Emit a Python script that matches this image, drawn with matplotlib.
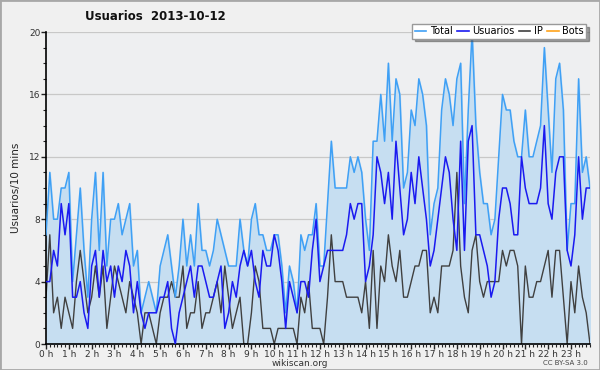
import matplotlib
matplotlib.use("Agg")
import matplotlib.pyplot as plt
import numpy as np
from matplotlib.lines import Line2D
from matplotlib.patches import Rectangle

# 10-minute slots over the day (144 points)
total = [7, 11, 8, 8, 10, 10, 11, 4, 7, 10, 6, 3, 8, 11, 6, 11, 5, 8, 8, 9, 7, 8, 9, 5,
         6, 2, 3, 4, 3, 2, 5, 6, 7, 5, 3, 5, 8, 5, 7, 5, 9, 6, 6, 5, 6, 8, 7, 6,
         5, 5, 5, 8, 6, 5, 8, 9, 7, 7, 6, 6, 7, 7, 5, 2, 5, 4, 2, 7, 6, 7, 7, 9,
         5, 5, 9, 13, 10, 10, 10, 10, 12, 11, 12, 11, 8, 6, 13, 13, 16, 13, 18, 13, 17, 16, 10,
         11, 15, 14, 17, 16, 14, 7, 9, 10,
         15, 17, 16, 14, 17, 18, 9, 15, 20, 14, 11, 9, 9, 7,
         8, 12, 16, 15, 15, 13, 12, 12, 15, 12, 12, 13, 14, 19, 15, 11, 17, 18, 15, 6, 9, 9, 17, 11, 12, 10]
usuarios = [4, 4, 6, 5, 9, 7, 9, 3, 3, 4, 2, 1, 5, 6, 3, 6, 4, 5, 3, 5, 4, 6, 5, 2,
            4, 2, 1, 2, 2, 2, 3, 3, 4, 1, 0, 2, 3, 4, 5, 3, 5, 5, 4, 3, 3, 4, 5, 1,
            2, 4, 3, 5, 6, 5, 6, 4, 3, 6, 5, 5, 7, 6, 4, 1, 4, 3, 2, 4, 4, 3, 6, 8,
            4, 5, 6, 6, 6, 6, 6, 7, 9, 8, 9, 9, 4, 5, 7, 12, 11, 9, 11, 8, 13, 10, 7,
            8, 11, 9, 12, 10, 8, 5, 6, 8,
            10, 12, 11, 8, 6, 13, 6, 13, 14, 7, 7, 6, 5, 3,
            4, 8, 10, 10, 9, 7, 7, 12, 10, 9, 9, 9, 10, 14, 9, 8, 11, 12, 12, 6, 5, 7, 12, 8, 10, 10]
ip = [3, 7, 2, 3, 1, 3, 2, 1, 4, 6, 4, 2, 3, 5, 3, 5, 1, 3, 5, 4, 3, 2, 4, 3,
      2, 0, 2, 2, 1, 0, 2, 3, 3, 4, 3, 3, 5, 1, 2, 2, 4, 1, 2, 2, 3, 4, 2, 5,
      3, 1, 2, 3, 0, 0, 2, 5, 4, 1, 1, 1, 0, 1, 1, 1, 1, 1, 0, 3, 2, 4, 1, 1,
      1, 0, 3, 7, 4, 4, 4, 3, 3, 3, 3, 2, 4, 1, 6, 1, 5, 4, 7, 5, 4, 6, 3,
      3, 4, 5, 5, 6, 6, 2, 3, 2,
      5, 5, 5, 6, 11, 5, 3, 2, 6, 7, 4, 3, 4, 4,
      4, 4, 6, 5, 6, 6, 5, 0, 5, 3, 3, 4, 4, 5, 6, 3, 6, 6, 3, 0, 4, 2, 5, 3, 2, 0]
hour_labels = [f"{h} h" for h in range(24)]

c_total = "#3fa0f5"
c_usu = "#1a1af0"
c_ip = "#404040"
c_bots = "#ffa31a"

fig = plt.figure(figsize=(6, 3.7), dpi=100, facecolor="#f0f0f0")
fig.patches.append(Rectangle((0, 0), 1, 1, transform=fig.transFigure, fill=False,
                             edgecolor="#a8a8a8", linewidth=2))
ax = fig.add_axes([46 / 600, 26 / 370, 544 / 600, 312 / 370])
ax.set_facecolor("#eeeff1")

x = np.arange(len(total))
ax.fill_between(x, total, 0, color="#c6def1", zorder=1)
ax.plot(x, total, color=c_total, lw=1.1, zorder=3)
ax.plot(x, usuarios, color=c_usu, lw=1.1, zorder=4)
ax.plot(x, ip, color=c_ip, lw=1.0, zorder=2)

ax.set_xlim(0, len(total) - 1)
ax.set_ylim(0, 20)
ax.set_yticks([0, 4, 8, 12, 16, 20])
ax.set_yticks(np.arange(0, 21, 1), minor=True)
ax.set_xticks(np.arange(0, 144, 6))
ax.set_xticklabels(hour_labels)
ax.set_xticks(np.arange(0, 144, 1), minor=True)
ax.grid(axis="y", which="major", color="#c8c8c8", lw=0.9, zorder=0)
ax.set_axisbelow(True)
for side in ["top", "right"]:
    ax.spines[side].set_visible(False)
ax.spines["left"].set_linewidth(1.2)
ax.spines["bottom"].set_linewidth(1.2)
ax.tick_params(axis="both", which="major", length=3.5, width=1, labelsize=6.5, pad=0.5,
               color="#222222", labelcolor="#333333")
ax.tick_params(axis="both", which="minor", length=2.5, width=0.8, color="#222222")
ax.set_ylabel("Usuarios/10 mins", fontsize=7.5, color="#222222", labelpad=6)

fig.text(85 / 600, 1 - 17 / 370, "Usuarios  2013-10-12", fontsize=8.5, fontweight="bold",
         va="center", ha="left", color="#111111")
fig.text(0.5, 1 - 364 / 370, "wikiscan.org", fontsize=6.5, ha="center", va="center",
         color="#333333")
fig.text(588 / 600, 1 - 363 / 370, "CC BY-SA 3.0", fontsize=5, ha="right", va="center",
         color="#444444")

handles = [Line2D([], [], color=c, lw=1.2) for c in (c_total, c_usu, c_ip, c_bots)]
leg = fig.legend(handles, ["Total", "Usuarios", "IP", "Bots"], ncol=4,
                 loc="upper right", bbox_to_anchor=(591 / 600, 1 - 19 / 370),
                 fontsize=7, handlelength=1.2, handletextpad=0.35, columnspacing=0.45,
                 borderpad=0.25, fancybox=False, shadow=True, framealpha=1)
leg.get_frame().set_edgecolor("#999999")
leg.get_frame().set_facecolor("#ffffff")

fig.savefig("out.png", dpi=100, facecolor=fig.get_facecolor())
